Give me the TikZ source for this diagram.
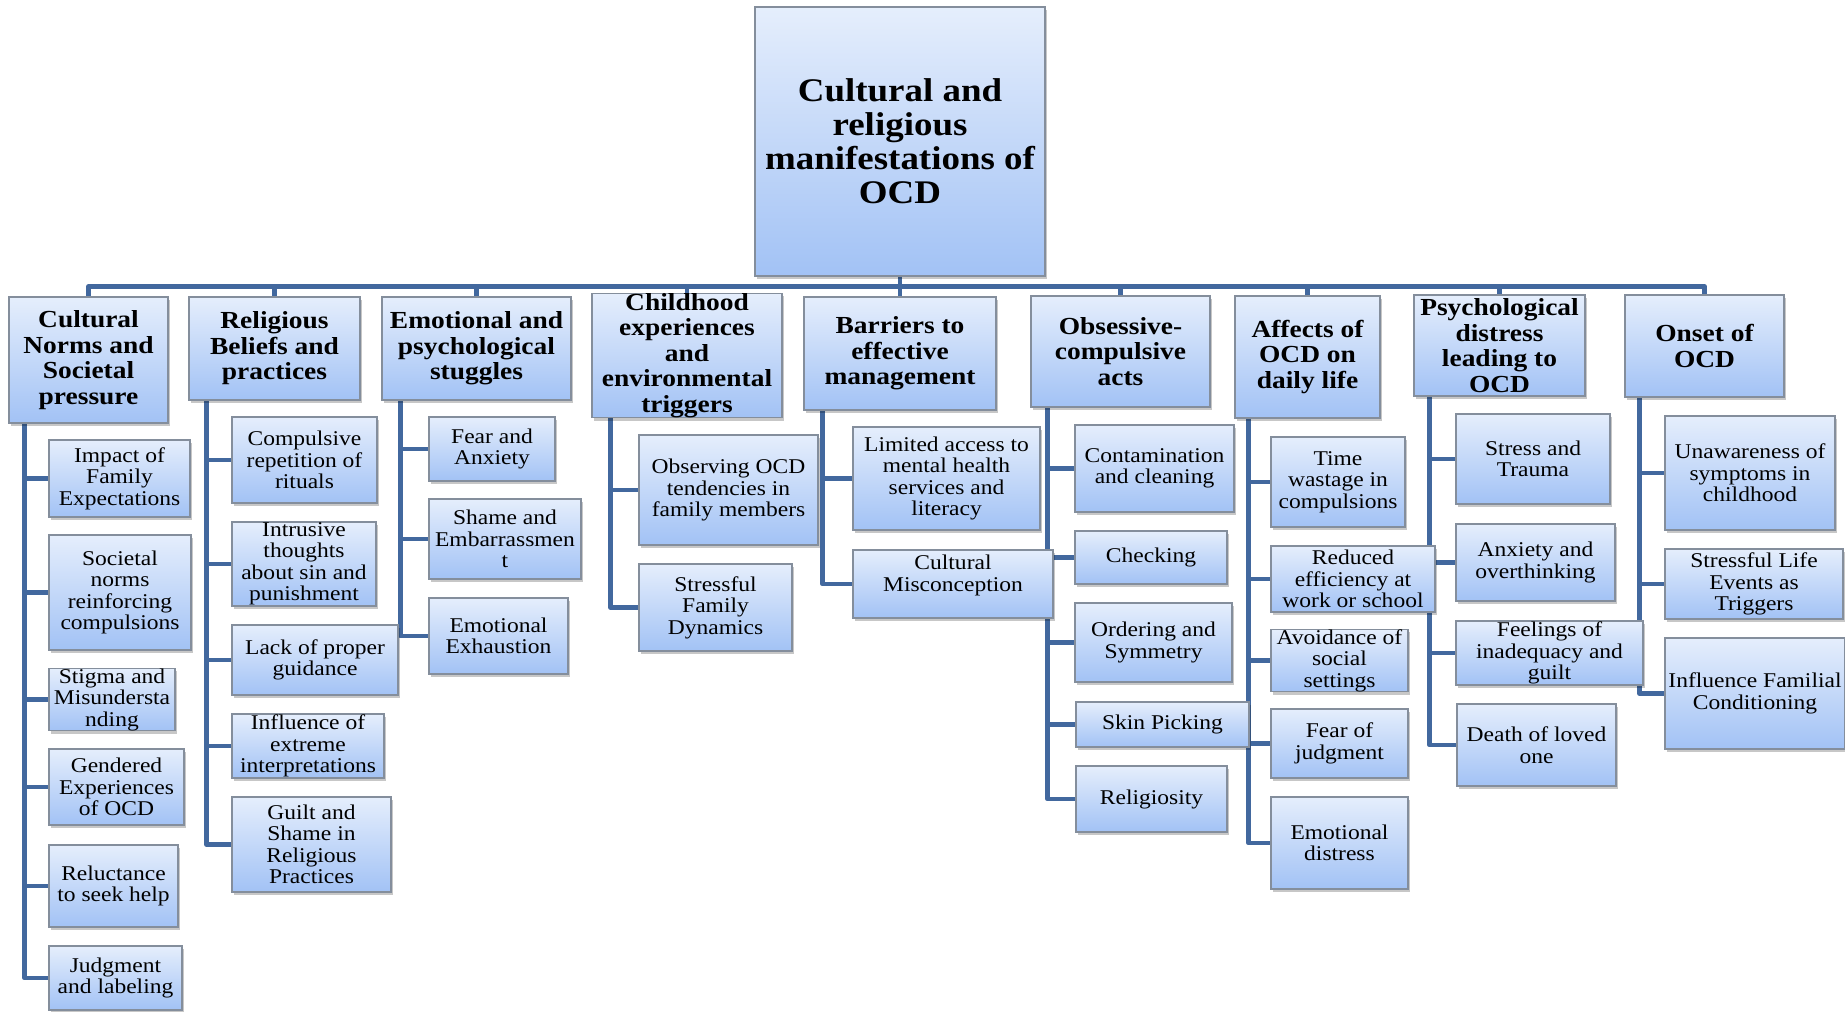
\documentclass[tikz,border=0pt]{standalone}
\usepackage{fontspec}
\setmainfont{Liberation Serif}[FakeStretch=1.12]
\usetikzlibrary{shadows,backgrounds}
\definecolor{linkblue}{RGB}{66,104,158}
\definecolor{boxtop}{RGB}{229,238,252}
\definecolor{boxbot}{RGB}{162,194,245}
\definecolor{boxedge}{RGB}{132,142,156}
\begin{document}
\begin{tikzpicture}[x=1pt,y=-1pt,
  % a box given by its left, top, right and bottom edges
  spot/.style n args={4}{minimum width={#3-#1}, minimum height={#4-#2},
    at={({(#1+#3)/2},{(#2+#4)/2})}},
  card/.style={draw=boxedge, line width=1.1pt, top color=boxtop, bottom color=boxbot,
    inner xsep=2pt, inner ysep=0pt, align=center,
    drop shadow={shadow xshift=2pt, shadow yshift=-3pt, fill=black, opacity=0.22}},
  rootbox/.style={card, font=\fontsize{33}{34}\selectfont\bfseries},
  headbox/.style={card, font=\fontsize{24.5}{25.5}\selectfont\bfseries},
  itembox/.style={card, font=\fontsize{21}{21.5}\selectfont},
  link/.style={draw=linkblue, line width=4.5pt, line join=round}
]
\useasboundingbox (0,0) rectangle (1845,1012);

% top of the tree
\node[rootbox, spot={755}{7}{1045}{276}] (root) {Cultural and\\religious\\manifestations of\\OCD};

% main themes
\node[headbox, spot={9}{297}{168}{423}]    (cn) {Cultural\\Norms and\\Societal\\pressure};
\node[headbox, spot={189}{297}{360}{400}]  (rb) {Religious\\Beliefs and\\practices};
\node[headbox, spot={382}{297}{571}{400}]  (ep) {Emotional and\\psychological\\stuggles};
\node[headbox, spot={592}{295}{782}{416}]  (ce) {Childhood\\experiences\\and\\environmental\\triggers};
\node[headbox, spot={804}{297}{996}{410}]  (bm) {Barriers to\\effective\\management};
\node[headbox, spot={1031}{296}{1210}{407}] (oc) {Obsessive-\\compulsive\\acts};
\node[headbox, spot={1235}{296}{1380}{418}] (ad) {Affects of\\OCD on\\daily life};
\node[headbox, spot={1414}{295}{1585}{396}] (pd) {Psychological\\distress\\leading to\\OCD};
\node[headbox, spot={1625}{295}{1784}{397}] (on) {Onset of\\OCD};

% cultural norms
\node[itembox, spot={49}{440}{190}{517}]  (cn1) {Impact of\\Family\\Expectations};
\node[itembox, spot={49}{535}{191}{650}]  (cn2) {Societal\\norms\\reinforcing\\compulsions};
\node[itembox, spot={49}{669}{175}{730}]  (cn3) {Stigma and\\Misundersta\\nding};
\node[itembox, spot={49}{749}{184}{825}]  (cn4) {Gendered\\Experiences\\of OCD};
\node[itembox, spot={49}{845}{178}{927}]  (cn5) {Reluctance\\to seek help};
\node[itembox, spot={49}{946}{182}{1010}] (cn6) {Judgment\\and labeling};

% religious beliefs
\node[itembox, spot={232}{417}{377}{503}] (rb1) {Compulsive\\repetition of\\rituals};
\node[itembox, spot={232}{522}{376}{606}] (rb2) {Intrusive\\thoughts\\about sin and\\punishment};
\node[itembox, spot={232}{625}{398}{695}] (rb3) {Lack of proper\\guidance};
\node[itembox, spot={232}{714}{384}{778}] (rb4) {Influence of\\extreme\\interpretations};
\node[itembox, spot={232}{797}{391}{892}] (rb5) {Guilt and\\Shame in\\Religious\\Practices};

% emotional struggles
\node[itembox, spot={429}{417}{555}{481}] (ep1) {Fear and\\Anxiety};
\node[itembox, spot={429}{499}{581}{579}] (ep2) {Shame and\\Embarrassmen\\t};
\node[itembox, spot={429}{598}{568}{674}] (ep3) {Emotional\\Exhaustion};

% childhood experiences
\node[itembox, spot={639}{435}{818}{545}] (ce1) {Observing OCD\\tendencies in\\family members};
\node[itembox, spot={639}{564}{792}{651}] (ce2) {Stressful\\Family\\Dynamics};

% barriers
\node[itembox, spot={853}{427}{1040}{530}] (bm1) {Limited access to\\mental health\\services and\\literacy};
\node[itembox, spot={853}{550}{1053}{618}] (bm2) {Cultural\\Misconception\\\mbox{}};

% obsessive-compulsive acts
\node[itembox, spot={1075}{425}{1234}{512}] (oc1) {Contamination\\and cleaning};
\node[itembox, spot={1075}{531}{1227}{584}] (oc2) {Checking};
\node[itembox, spot={1075}{603}{1232}{682}] (oc3) {Ordering and\\Symmetry};
\node[itembox, spot={1076}{702}{1249}{747}] (oc4) {Skin Picking};
\node[itembox, spot={1076}{766}{1227}{832}] (oc5) {Religiosity};

% effects on daily life
\node[itembox, spot={1271}{437}{1405}{527}] (ad1) {Time\\wastage in\\compulsions};
\node[itembox, spot={1271}{546}{1435}{612}] (ad2) {Reduced\\efficiency at\\work or school};
\node[itembox, spot={1271}{630}{1408}{691}] (ad3) {Avoidance of\\social\\settings};
\node[itembox, spot={1271}{709}{1408}{778}] (ad4) {Fear of\\judgment};
\node[itembox, spot={1271}{797}{1408}{889}] (ad5) {Emotional\\distress};

% psychological distress
\node[itembox, spot={1456}{414}{1610}{504}] (pd1) {Stress and\\Trauma};
\node[itembox, spot={1456}{524}{1615}{601}] (pd2) {Anxiety and\\overthinking};
\node[itembox, spot={1456}{621}{1643}{685}] (pd3) {Feelings of\\inadequacy and\\guilt};
\node[itembox, spot={1457}{704}{1616}{786}] (pd4) {Death of loved\\one};

% onset
\node[itembox, spot={1665}{416}{1835}{530}] (on1) {Unawareness of\\symptoms in\\childhood};
\node[itembox, spot={1665}{549}{1843}{619}] (on2) {Stressful Life\\Events as\\Triggers};
\node[itembox, spot={1665}{638}{1845}{749}] (on3) {Influence Familial\\Conditioning};

% connectors, kept behind the boxes
\begin{scope}[on background layer]
  \fill[white] (0,0) rectangle (1845,1012);
  \foreach \h in {cn,rb,ep,ce,bm,oc,ad,pd,on}
    \draw[link] (root.south) -- ++(0,10) -| (\h.north);
  \foreach \p/\o/\kids in {cn/16/{cn1,cn2,cn3,cn4,cn5,cn6},
                           rb/18/{rb1,rb2,rb3,rb4,rb5},
                           ep/19/{ep1,ep2,ep3},
                           ce/19/{ce1,ce2},
                           bm/19/{bm1,bm2},
                           oc/17/{oc1,oc2,oc3,oc4,oc5},
                           ad/14/{ad1,ad2,ad3,ad4,ad5},
                           pd/16/{pd1,pd2,pd3,pd4},
                           on/15/{on1,on2,on3}}
    \foreach \k in \kids
      \draw[link] ([xshift=\o pt]\p.south west) |- (\k.west);
\end{scope}
\end{tikzpicture}
\end{document}
